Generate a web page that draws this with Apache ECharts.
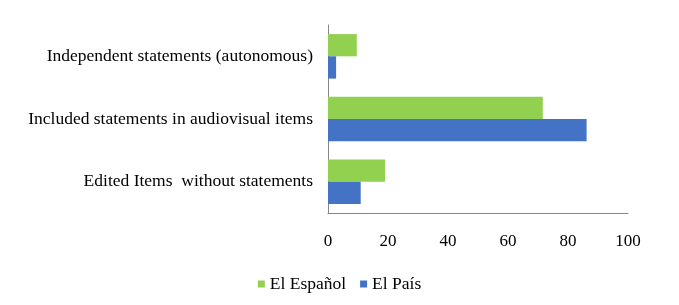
<!DOCTYPE html>
<html><head><meta charset="utf-8">
<script src="https://cdn.jsdelivr.net/npm/echarts@6/dist/echarts.min.js"></script>
<style>html,body{margin:0;padding:0;background:#fff}#c{width:679px;height:305px}</style>
</head><body><div id="c"></div>
<script>
const categories = ["Edited Items  without statements", "Included statements in audiovisual items", "Independent statements (autonomous)"];
const elEspanol = [19, 71.6, 9.6];
const elPais = [10.9, 86.2, 2.7];
const xTicks = [0, 20, 40, 60, 80, 100];

const font = "Liberation Serif";
const chart = echarts.init(document.getElementById('c'));
chart.setOption({
  animation: false,
  textStyle: {fontFamily: font},
  grid: {left: 328, right: 51, top: 25, bottom: 92},
  legend: {
    data: ["El Español", "El País"],
    bottom: 7, left: 'center',
    itemWidth: 7, itemHeight: 7, itemGap: 14,
    icon: 'rect',
    textStyle: {fontFamily: font, fontSize: 17.5, color: '#000'}
  },
  xAxis: {
    type: 'value', min: xTicks[0], max: xTicks[xTicks.length-1], interval: 20,
    axisLine: {show: true, lineStyle: {color: '#868686'}},
    axisTick: {show: false},
    splitLine: {show: false},
    axisLabel: {fontFamily: font, fontSize: 17, color: '#000', margin: 20}
  },
  yAxis: {
    type: 'category', data: categories,
    axisLine: {show: true, lineStyle: {color: '#868686'}},
    axisTick: {show: false},
    axisLabel: {fontFamily: font, fontSize: 17.5, color: '#000', margin: 15}
  },
  series: [
    {name: "El Español", type: 'bar', data: elEspanol, itemStyle: {color: '#92D050'}, barGap: '0%', barCategoryGap: '29%'},
    {name: "El País", type: 'bar', data: elPais, itemStyle: {color: '#4472C4'}, barGap: '0%', barCategoryGap: '29%'}
  ]
});
</script></body></html>
